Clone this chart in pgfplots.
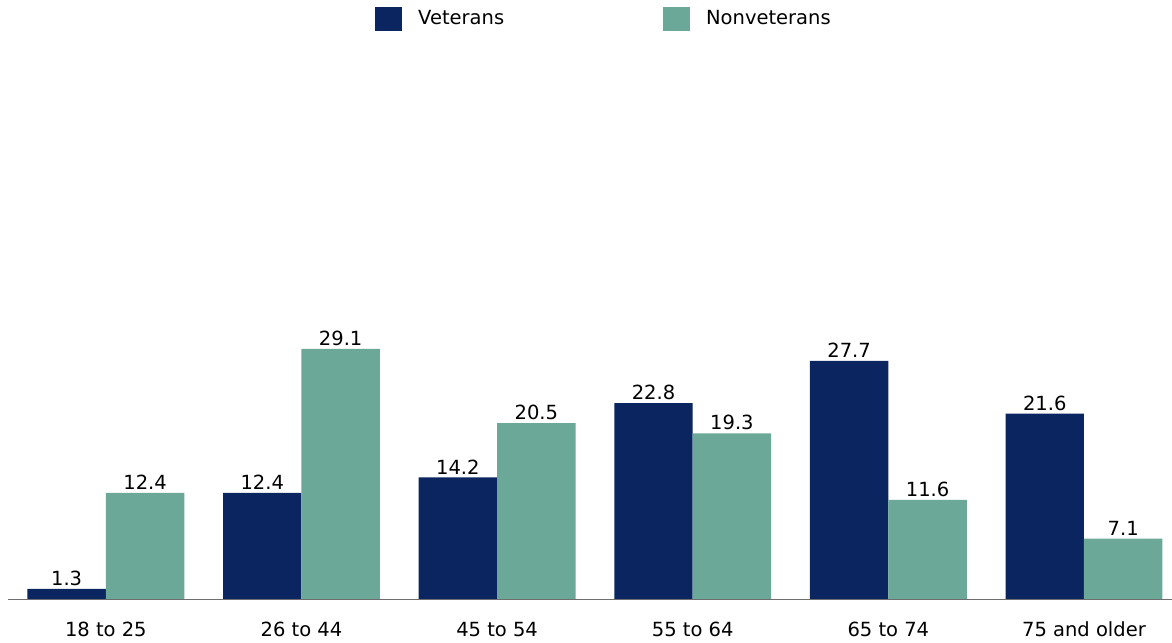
\documentclass[border=0pt]{standalone}
\usepackage{fontspec}
\setmainfont{DejaVu Sans}
\usepackage{pgfplots}
\pgfplotsset{compat=1.18}
\definecolor{vet}{HTML}{0A2560}
\definecolor{nonvet}{HTML}{6BA897}
\begin{document}
\fontsize{19.5bp}{23bp}\selectfont
\begin{tikzpicture}
\begin{axis}[
  scale only axis, width=1172bp, height=600bp,
  xmin=-0.541, xmax=5.45, ymin=0, ymax=69.5,
  ybar=0pt, bar width=0.401,
  axis line style={draw=none},
  tick style={draw=none},
  ytick=\empty,
  xtick={0,1,2,3,4,5},
  xticklabels={18 to 25,26 to 44,45 to 54,55 to 64,65 to 74,75 and older},
  xticklabel style={font=\fontsize{19.5bp}{23bp}\selectfont, yshift=-11bp},
  /pgf/number format/assume math mode=true,
  nodes near coords,
  every node near coord/.append style={font=\fontsize{19.5bp}{23bp}\selectfont, anchor=south, inner sep=3bp, black},
  legend columns=2,
  legend style={at={(0.5153,1)}, anchor=north, yshift=-5bp, draw=none, fill=none,
    font=\fontsize{19.5bp}{23bp}\selectfont,
    /tikz/every even column/.append style={column sep=157bp}},
  legend image code/.code={\fill[#1] (0bp,-12bp) rectangle (27bp,12bp); \path (41bp,0bp);},
]
\addplot[fill=vet, draw=none] coordinates {(0,1.3) (1,12.4) (2,14.2) (3,22.8) (4,27.7) (5,21.6)};
\addplot[fill=nonvet, draw=none] coordinates {(0,12.4) (1,29.1) (2,20.5) (3,19.3) (4,11.6) (5,7.1)};
\legend{Veterans, Nonveterans}
\draw[color={rgb,255:red,110;green,110;blue,110}, line width=1.5bp] (axis cs:-0.5,0) -- (axis cs:5.45,0);
\end{axis}
\pgfresetboundingbox
\useasboundingbox (current axis.north west) rectangle ([yshift=-43bp]current axis.south east);
\end{tikzpicture}
\end{document}
